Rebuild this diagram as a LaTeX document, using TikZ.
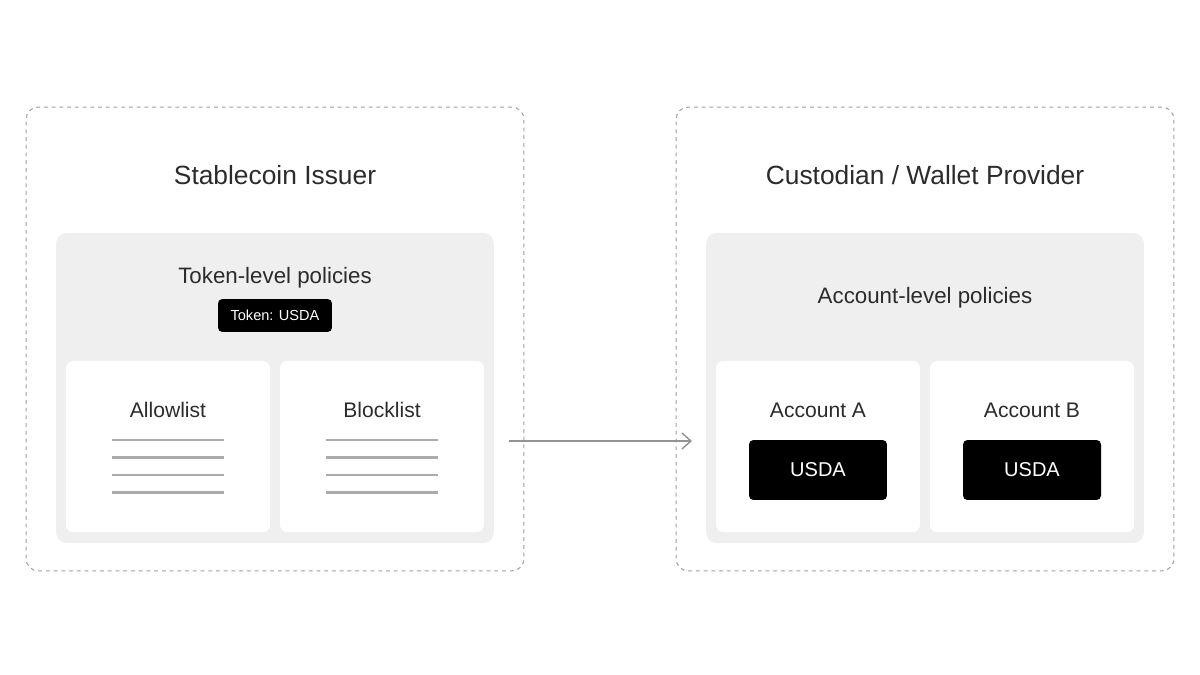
\documentclass[tikz,border=0pt]{standalone}
\usepackage{fontspec}
\setmainfont{Liberation Sans}
\usetikzlibrary{arrows.meta}
\definecolor{txt}{HTML}{2B2B2B}
\definecolor{panel}{HTML}{EFEFEF}
\definecolor{dashc}{HTML}{A0A0A0}
\definecolor{rule}{HTML}{ABABAB}
\tikzstyle{outer} = [rectangle, draw=dashc, dash pattern=on 2.2pt off 2.2pt, line width=0.6pt,
    rounded corners=7pt, minimum width=9.96cm, minimum height=9.28cm]
\tikzstyle{inner} = [rectangle, fill=panel, rounded corners=6pt,
    minimum width=8.76cm, minimum height=6.2cm]
\tikzstyle{card} = [rectangle, fill=white, rounded corners=4pt,
    minimum width=4.08cm, minimum height=3.42cm]
\tikzstyle{chip} = [rectangle, fill=black, text=white, rounded corners=2.5pt]
\tikzstyle{title} = [text=txt, font=\fontsize{15}{18}\selectfont]
\tikzstyle{head} = [text=txt, font=\fontsize{12.7}{15}\selectfont]
\tikzstyle{lbl} = [text=txt, font=\fontsize{12}{14}\selectfont]
\tikzstyle{listline} = [draw=rule, line width=1.4pt]
\tikzstyle{flow} = [draw=gray!85, line width=0.8pt, -{Straight Barb[length=1.8mm, width=3.2mm]}]

\begin{document}
\begin{tikzpicture}[x=0.02cm, y=-0.02cm, inner sep=0pt]
    \useasboundingbox (0,0) rectangle (1200,675);

    % issuer side
    \node[outer] (issuer) at (275,339) {};
    \node[title] (issuerT) at (275,175) {Stablecoin Issuer};
    \node[inner] (tokpol) at (275,388) {};
    \node[head] (tokpolT) at (275,278) {Token-level policies};
    \node[chip, minimum width=2.28cm, minimum height=0.66cm,
        font=\fontsize{8.3}{10}\selectfont] (tok) at (275,315.5) {Token: USDA};
    \node[card] (allow) at (168,446.5) {};
    \node[card] (block) at (382,446.5) {};
    \node[lbl] (allowT) at (168,410) {Allowlist};
    \node[lbl] (blockT) at (382,410) {Blocklist};
    \foreach \x in {168,382}
        \foreach \y in {440,457.5,475,492.5}
            \draw[listline] (\x-56,\y) -- (\x+56,\y);

    % custodian side
    \node[outer] (cust) at (925,339) {};
    \node[title] (custT) at (925,175) {Custodian / Wallet Provider};
    \node[inner] (accpol) at (925,388) {};
    \node[head] (accpolT) at (925,297.5) {Account-level policies};
    \node[card] (accA) at (818,446.5) {};
    \node[card] (accB) at (1032,446.5) {};
    \node[lbl] (accAT) at (818,410) {Account A};
    \node[lbl] (accBT) at (1032,410) {Account B};
    \node[chip, minimum width=2.76cm, minimum height=1.2cm,
        font=\fontsize{11.4}{13}\selectfont] (usdaA) at (818,470) {USDA};
    \node[chip, minimum width=2.76cm, minimum height=1.2cm,
        font=\fontsize{11.4}{13}\selectfont] (usdaB) at (1032,470) {USDA};

    \coordinate (from) at (509,441);
    \coordinate (to) at (692,441);
    \path[flow] (from) -- (to);
\end{tikzpicture}
\end{document}
